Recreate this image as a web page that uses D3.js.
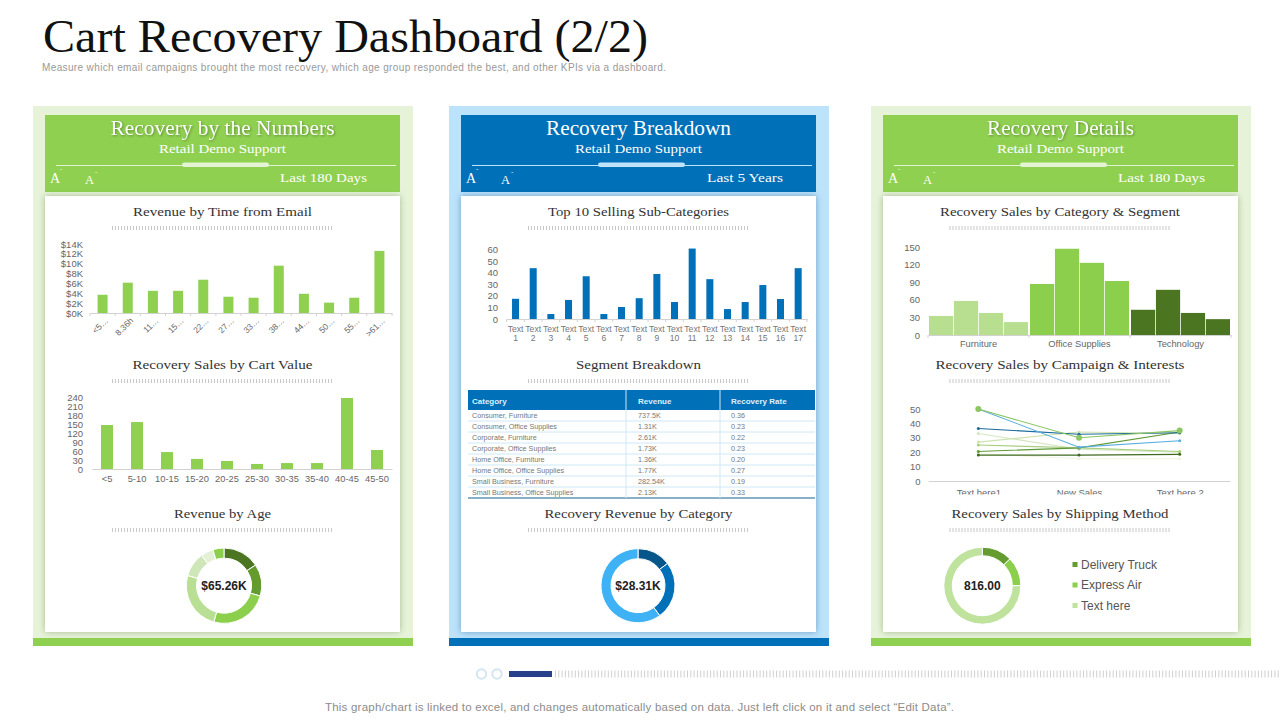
<!DOCTYPE html>
<html><head><meta charset="utf-8">
<script src="https://cdn.jsdelivr.net/npm/d3@7/dist/d3.min.js"></script>
<style>html,body{margin:0;padding:0;background:#fff;overflow:hidden}svg{display:block}</style>
</head><body><svg id="c" width="1280" height="720"></svg>
<script>
const timeLabels=["<5…","8.36h","11…","15…","22…","27…","33…","38…","44…","50…","55…",">61…"];
const timeValues=[3.7,6.15,4.5,4.5,6.75,3.3,3.1,9.6,3.9,2.1,3.1,12.6];
const timeTicks=[0,2,4,6,8,10,12,14];
const cartLabels=["<5","5-10","10-15","15-20","20-25","25-30","30-35","35-40","40-45","45-50"];
const cartValues=[148,158,57,34,27,17,20,20,239,64];
const cartTicks=[0,30,60,90,120,150,180,210,240];
const ageValues=[10.3,8.9,16.3,16.3,6.9,3.5,3.1];
const ageColors=["#4b7521","#649b2c","#8ccf4d","#b9df94","#cfe7b8","#e4f1d7","#8ccf4d"];
const subLabels=d3.range(1,18).map(String);
const subValues=[17.5,44,4.3,16.5,37,4.3,10.4,18,39,14.7,61,34.5,8.6,14.7,29.4,17.3,44];
const subTicks=[0,10,20,30,40,50,60];
const tableHead=["Category","Revenue","Recovery Rate"];
const tableCats=["Consumer, Furniture","Consumer, Office Supplies","Corporate, Furniture","Corporate, Office Supplies","Home Office, Furniture","Home Office, Office Supplies","Small Business, Furniture","Small Business, Office Supplies"];
const tableRev=["737.5K","1.31K","2.61K","1.73K","1.36K","1.77K","282.54K","2.13K"];
const tableRate=["0.36","0.23","0.22","0.23","0.20","0.27","0.19","0.33"];
const catGroups=["Furniture","Office Supplies","Technology"];
const catColors=["#b8de90","#8ccf4d","#4b7521"];
const catValues=[[32.5,58,37.6,22],[87,147,123,92],[43,77,37.6,27]];
const catTicks=[0,30,60,90,120,150];
const campCats=["Text here1","New Sales","Text here 2"];
const campSeries=[[19,15.5,15.5],[33,22,20],[27,34,33],[25,23,20.5],[18,18,18.5],[20.5,23,34],[36.5,32.5,33.5],[50,23.5,28],[50,30,35]];
const campColors=["#eef5e0","#d5e5c0","#cfe3b0","#a8cf80","#3f6b1e","#5f9a37","#1a6a9a","#5aaee0","#8cc665"];
const campRadius=[1.5,1.5,1.5,1.5,1.5,1.5,1.5,1.5,3];
const campTicks=[0,10,20,30,40,50];
const catRevValues=[4.17,7.16,16.98];
const catRevColors=["#06568a","#0070b8","#3fb2f5"];
const shipLabels=["Delivery Truck","Express Air","Text here"];
const shipValues=[104,100,612];
const shipColors=["#659c30","#8ccf4d","#bfe29c"];

const SERIF="'Liberation Serif','DejaVu Serif',serif", SANS="'Liberation Sans',Arial,sans-serif";
const svg=d3.select("#c");
function txt(g,s,x,y,o={}){
  const t=g.append("text").attr("x",x).attr("y",y).text(s)
    .attr("font-family",o.f||SANS).attr("font-size",o.s||10).attr("fill",o.c||"#444")
    .attr("text-anchor",o.a||"start").attr("dominant-baseline","central");
  if(o.w){t.attr("textLength",o.w).attr("lengthAdjust",o.f===SERIF?"spacingAndGlyphs":"spacing");}
  if(o.b)t.attr("font-weight","bold");
  if(o.sh)t.style("filter","drop-shadow(1px 1px 1px rgba(60,90,30,.55))");
  return t;
}
txt(svg,"Cart Recovery Dashboard (2/2)",43,36,{f:SERIF,s:47,c:"#111",w:605});
txt(svg,"Measure which email campaigns brought the most recovery, which age group responded the best, and other KPIs  via a dashboard.",42,67.5,{s:10,c:"#999",w:624});

const panels=[
 {x:33,bg:"#e6f3d9",head:"#8fd050",bar:"#8fd050",pill:"#e3f3d3",sh:"rgba(90,120,60,.45)",title:"Recovery by the Numbers",tw:224,range:"Last 180 Days",rx:280,rw:87,shadow:true},
 {x:449,bg:"#bde3fb",head:"#0070b8",bar:"#0070b8",pill:"#bde3fb",sh:"rgba(30,90,140,.5)",title:"Recovery Breakdown",tw:185,range:"Last 5 Years",rx:707,rw:76,shadow:false},
 {x:871,bg:"#e6f3d9",head:"#8fd050",bar:"#8fd050",pill:"#e3f3d3",sh:"rgba(90,120,60,.45)",title:"Recovery Details",tw:147,range:"Last 180 Days",rx:1118,rw:87,shadow:true}
];
panels.forEach(p=>{
  const g=svg.append("g"), L=p.x+12, C=L+177.5;
  g.append("rect").attr("x",p.x).attr("y",106).attr("width",380).attr("height",532).attr("fill",p.bg);
  g.append("rect").attr("x",p.x).attr("y",638).attr("width",380).attr("height",8).attr("fill",p.bar);
  g.append("rect").attr("x",L).attr("y",115).attr("width",355).attr("height",77).attr("fill",p.head);
  g.append("rect").attr("x",L).attr("y",196).attr("width",355).attr("height",436).attr("fill","#fff")
    .style("filter",`drop-shadow(0 0 3px ${p.sh})`);
  txt(g,p.title,C,128,{f:SERIF,s:21,c:"#fff",a:"middle",w:p.tw,sh:p.shadow});
  txt(g,"Retail Demo Support",C,148.5,{f:SERIF,s:13.5,c:"#fff",a:"middle",w:127});
  g.append("line").attr("x1",L+11).attr("x2",L+351).attr("y1",165.5).attr("y2",165.5).attr("stroke",p.pill).attr("stroke-width",1);
  g.append("rect").attr("x",L+137).attr("y",162.5).attr("width",87).attr("height",4.5).attr("rx",2.2).attr("fill",p.pill);
  txt(g,"A",L+5,178.5,{f:SERIF,s:14,c:"#fff"});
  txt(g,"A",L+40,179.5,{f:SERIF,s:12.5,c:"#fff"});
  txt(g,"-",L+15,169,{f:SERIF,s:7,c:"#fff"});
  txt(g,"-",L+50,172,{f:SERIF,s:7,c:"#fff"});
  txt(g,p.range,p.rx,177.5,{f:SERIF,s:13.5,c:"#fff",w:p.rw});
});

function section(t,cx,y,w){
  txt(svg,t,cx,y,{f:SERIF,s:13.5,c:"#333",a:"middle",w:w});
  svg.append("line").attr("x1",cx-110.5).attr("x2",cx+110.5).attr("y1",y+17).attr("y2",y+17)
    .attr("stroke","#c8c8c8").attr("stroke-width",4).attr("stroke-dasharray","1 2");
}
section("Revenue by Time from Email",222.5,211,179);
section("Recovery Sales by Cart Value",222.5,364,180);
section("Revenue by Age",222.5,513,97);
section("Top 10 Selling Sub-Categories",638.5,211,181);
section("Segment Breakdown",638.5,364,125);
section("Recovery Revenue by Category",638.5,513,188);
section("Recovery Sales by Category & Segment",1060,211,240);
section("Recovery Sales by Campaign & Interests",1060,364,249);
section("Recovery Sales by Shipping Method",1060,513,217);

function yAxis(y,ticks,x,fmt,size){
  const a=svg.append("g").attr("transform",`translate(${x},0)`)
    .call(d3.axisLeft(y).tickValues(ticks).tickSize(0).tickPadding(0).tickFormat(fmt||(d=>d)));
  a.select(".domain").remove();
  a.selectAll("text").attr("font-family",SANS).attr("font-size",size||9.5).attr("fill","#666")
    .attr("dy",0).attr("y",-0.5).attr("dominant-baseline","central");
  return a;
}
function xAxis(x,y0,pad){
  const a=svg.append("g").attr("transform",`translate(0,${y0})`)
    .call(d3.axisBottom(x).tickSize(0).tickPadding(pad));
  a.select(".domain").attr("stroke","#d2d2d2");
  a.selectAll("text").attr("font-family",SANS).attr("font-size",9.3).attr("fill","#666");
  return a;
}
function boundaries(x,y0,cats){
  const pts=cats.map(c=>x(c)-x.step()*x.paddingInner()/2);
  pts.push(x.range()[1]);
  svg.append("g").selectAll("line").data(pts).join("line")
    .attr("x1",d=>d).attr("x2",d=>d).attr("y1",y0).attr("y2",y0+3).attr("stroke","#d2d2d2");
}
function bars(cats,vals,x,y,y0,w,color){
  svg.append("g").selectAll("rect").data(vals).join("rect")
    .attr("x",(d,i)=>x(cats[i])+x.bandwidth()/2-w/2).attr("width",w)
    .attr("y",d=>y(d)).attr("height",d=>y0-y(d)).attr("fill",color);
}

// Revenue by time from email
{const y0=313,x=d3.scaleBand().domain(timeLabels).range([90,392]).paddingInner(0),y=d3.scaleLinear().domain([0,14]).range([y0,244]);
 yAxis(y,timeTicks,83,d=>`$${d}K`);
 const a=xAxis(x,y0,0);
 a.selectAll("text").attr("font-size",8.5).attr("text-anchor","end").attr("dy",0).attr("y",0)
   .attr("transform","translate(4,6) rotate(-45)").attr("dominant-baseline","central");
 boundaries(x,y0,timeLabels);
 bars(timeLabels,timeValues,x,y,y0,10,"#8fd050");}

// Recovery by cart value
{const y0=469,x=d3.scaleBand().domain(cartLabels).range([92,392]),y=d3.scaleLinear().domain([0,240]).range([y0,397.7]);
 yAxis(y,cartTicks,83);
 xAxis(x,y0,6);
 bars(cartLabels,cartValues,x,y,y0,12,"#8fd050");}

// Donuts
function donut(vals,cols,cx,cy,ro,ri,label,fs){
  const g=svg.append("g").attr("transform",`translate(${cx},${cy})`);
  const arcs=d3.pie().sort(null)(vals), arc=d3.arc().innerRadius(ri).outerRadius(ro);
  g.selectAll("path").data(arcs).join("path").attr("d",arc).attr("fill",(d,i)=>cols[i]).attr("stroke","#fff").attr("stroke-width",1);
  txt(g,label,0,0,{s:fs||12,c:"#222",a:"middle",b:true});
}
donut(ageValues,ageColors,224,585.7,37.7,27.5,"$65.26K");
donut(catRevValues,catRevColors,638,585.7,37,27,"$28.31K");
donut(shipValues,shipColors,982.3,585.7,38.5,30,"816.00");

// Top sub-categories
{const y0=319,x=d3.scaleBand().domain(subLabels).range([506.7,807]),y=d3.scaleLinear().domain([0,60]).range([y0,249.7]);
 yAxis(y,subTicks,498);
 const a=xAxis(x,y0,0);
 a.selectAll("text").attr("font-size",8.6).attr("fill","#777").attr("dy",0).attr("dominant-baseline","central").text(null).each(function(d){
   const t=d3.select(this);
   t.append("tspan").attr("x",0).attr("y",10).text("Text");
   t.append("tspan").attr("x",0).attr("y",19).text(d);
 });
 boundaries(x,y0,subLabels);
 bars(subLabels,subValues,x,y,y0,7,"#0070b8");}

// Segment table
{const rows=d3.range(tableCats.length),L=468,R=815,hT=390,hB=410,rh=11,cols=[468,626,720];
 svg.append("rect").attr("x",L).attr("y",hT).attr("width",R-L).attr("height",hB-hT).attr("fill","#0070b8");
 tableHead.forEach((h,i)=>txt(svg,h,[472,638,731][i],401,{s:8,c:"#dff1fb",b:true}));
 const colsData=[tableCats,tableRev,tableRate];
 colsData.forEach((col,i)=>svg.append("g").selectAll("text").data(col).join("text")
   .attr("x",[472,638,731][i]).attr("y",(d,r)=>hB+rh*r+5.5).attr("dominant-baseline","central")
   .attr("font-family",SANS).attr("font-size",7.2).attr("fill","#777").text(d=>d));
 svg.append("g").selectAll("line").data(rows).join("line")
   .attr("x1",L).attr("x2",R).attr("y1",r=>hB+rh*(r+1)).attr("y2",r=>hB+rh*(r+1))
   .attr("stroke",r=>r===rows.length-1?"#5f97b5":"#cfe8f6").attr("stroke-width",r=>r===rows.length-1?1.5:1);
 svg.append("g").selectAll("line").data(cols.slice(1)).join("line")
   .attr("x1",d=>d).attr("x2",d=>d).attr("y1",hT).attr("y2",hB+rh*rows.length)
   .attr("stroke",(d)=>"#cfe8f6");
}

// Category & segment
{const y0=335,x=d3.scaleBand().domain(catGroups).range([928,1231]),y=d3.scaleLinear().domain([0,150]).range([y0,247]);
 yAxis(y,catTicks,920);
 const a=xAxis(x,y0,5);
 boundaries(x,y0,catGroups);
 catGroups.forEach((c,gi)=>{
   const inner=d3.scaleBand().domain(d3.range(4)).range([x(c)+1,x(c)+x.bandwidth()-1]).paddingInner(0.03);
   svg.append("g").selectAll("rect").data(catValues[gi]).join("rect")
     .attr("x",(d,i)=>inner(i)).attr("width",inner.bandwidth())
     .attr("y",d=>y(d)).attr("height",d=>y0-y(d)).attr("fill",catColors[gi]);
 });}

// Campaign lines
{const y0=481,x=d3.scalePoint().domain(campCats).range([928,1230]).padding(0.5),y=d3.scaleLinear().domain([0,50]).range([y0,409]);
 yAxis(y,campTicks,920.5);
 const a=xAxis(x,y0,4);
 a.selectAll("text").attr("font-size",9.5).attr("dy",0).attr("y",11).attr("dominant-baseline","central");
 svg.append("rect").attr("x",920).attr("y",494.5).attr("width",318).attr("height",6).attr("fill","#fff");
 const line=d3.line().x((d,i)=>x(campCats[i])).y(d=>y(d));
 campSeries.forEach((s,i)=>{
   svg.append("path").attr("d",line(s)).attr("fill","none").attr("stroke",campColors[i]).attr("stroke-width",1.1);
   svg.append("g").selectAll("circle").data(s).join("circle")
     .attr("cx",(d,j)=>x(campCats[j])).attr("cy",d=>y(d)).attr("r",campRadius[i]).attr("fill",campColors[i]);
 });}

// Shipping legend
{const ly=d3.scalePoint().domain(shipLabels).range([564.5,605.5]);
 svg.append("g").selectAll("rect").data(shipLabels).join("rect")
   .attr("x",1072.5).attr("y",d=>ly(d)-2.5).attr("width",5).attr("height",5).attr("fill",(d,i)=>shipColors[i]);
 svg.append("g").selectAll("text").data(shipLabels).join("text")
   .attr("x",1081).attr("y",d=>ly(d)).attr("dominant-baseline","central")
   .attr("font-family",SANS).attr("font-size",12).attr("fill","#555").text(d=>d);
}

// Footer
[481.5,497].forEach(cx=>svg.append("circle").attr("cx",cx).attr("cy",674).attr("r",4.7).attr("fill","#fff").attr("stroke","#d4e5f1").attr("stroke-width",2));
svg.append("rect").attr("x",509).attr("y",671).attr("width",43).attr("height",6).attr("fill","#27408b");
svg.append("line").attr("x1",555).attr("x2",1280).attr("y1",674).attr("y2",674).attr("stroke","#d0d0d0").attr("stroke-width",7).attr("stroke-dasharray","1 2.3");
txt(svg,"This graph/chart is linked to excel,  and changes automatically based on data. Just left click on it and select “Edit Data”.",325,707,{s:11.5,c:"#8c8c8c",w:629});
</script></body></html>
